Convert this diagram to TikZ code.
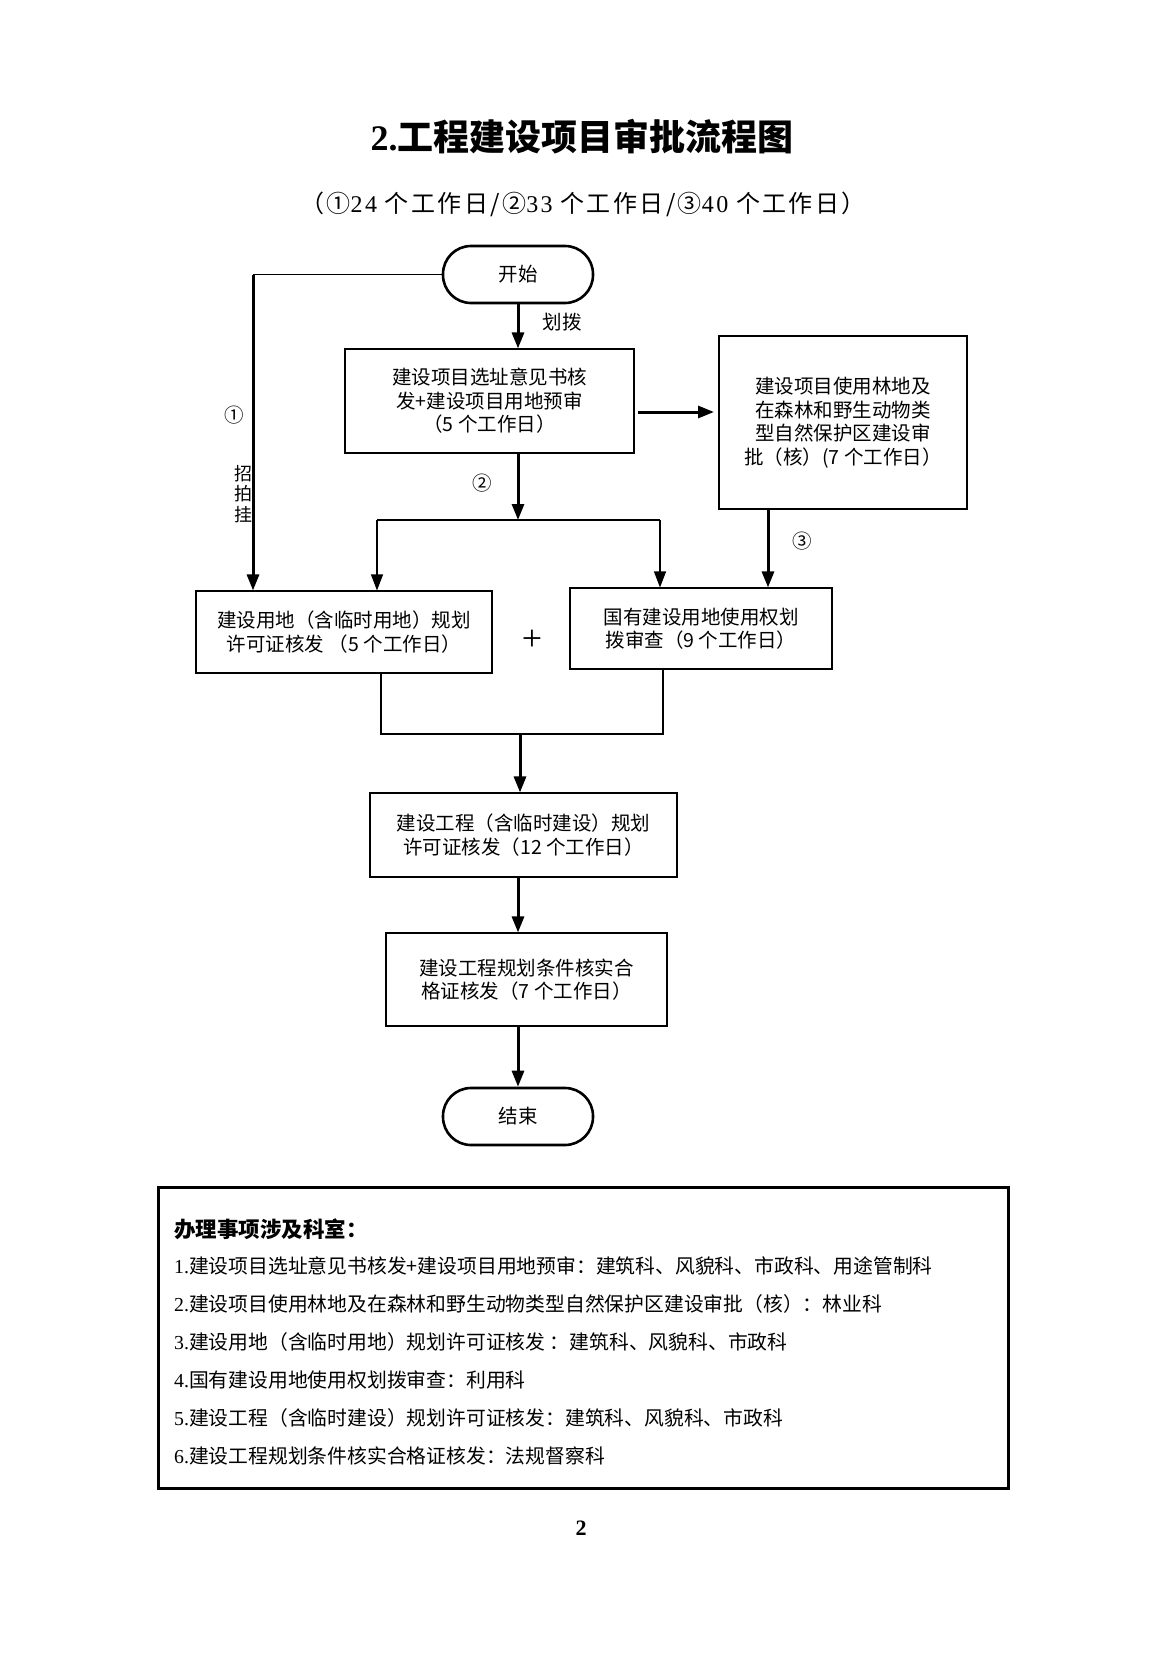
\documentclass[tikz,border=0pt]{standalone}
\usepackage{fontspec}
\setmainfont{Noto Sans CJK SC}
\newfontfamily\tnr{Liberation Serif}
\usetikzlibrary{arrows.meta}
\begin{document}
\begin{tikzpicture}[x=1pt,y=-1pt,
  box/.style={draw,line width=1.1pt,align=center,inner sep=0pt,
    font=\fontsize{19.5}{23.5}\selectfont},
  term/.style={draw,line width=2.6pt,rounded corners=28pt,inner sep=0pt,
    minimum width=150pt,minimum height=57pt,font=\fontsize{19.5}{23.5}\selectfont},
  flow/.style={line width=3pt,-{Triangle[length=16pt,width=12pt]}},
  thinflow/.style={line width=1.1pt,-{Triangle[length=16pt,width=12pt]}},
  link/.style={line width=1.1pt},
  lbl/.style={inner sep=0pt,font=\fontsize{19.5}{23.5}\selectfont},
  legend/.style={anchor=west,inner sep=0pt,font=\fontsize{19.8}{23.5}\selectfont}]
\useasboundingbox[fill=white] (0,0) rectangle (1166,1654);

% titles
\node[inner sep=0pt,font=\fontsize{36}{40}\selectfont\bfseries] (title) at (582,137)
  {{\tnr 2.}工程建设项目审批流程图};
\node[inner sep=0pt,font=\fontsize{24}{28}\selectfont\addfontfeatures{LetterSpace=10}] (subtitle) at (583,204)
  {（①{\tnr\addfontfeatures{LetterSpace=10}24} 个工作日/②{\tnr\addfontfeatures{LetterSpace=10}33} 个工作日/③{\tnr\addfontfeatures{LetterSpace=10}40} 个工作日）};

% main nodes
\node[term] (start) at (518,274.5) {开始};
\node[box,minimum width=289pt,minimum height=104pt] (b1) at (489.5,401)
  {建设项目选址意见书核\\发+建设项目用地预审\\（5 个工作日）};
\node[box,minimum width=248pt,minimum height=173pt] (b2) at (843,422.5)
  {建设项目使用林地及\\在森林和野生动物类\\型自然保护区建设审\\批（核）(7 个工作日）};
\node[box,minimum width=296pt,minimum height=82pt] (b3) at (344,632)
  {建设用地（含临时用地）规划\\许可证核发 （5 个工作日）};
\node[box,minimum width=262pt,minimum height=81pt] (b4) at (701,628.5)
  {国有建设用地使用权划\\拨审查（9 个工作日）};
\node[box,minimum width=307pt,minimum height=84pt] (b5) at (523.5,835)
  {建设工程（含临时建设）规划\\许可证核发（12 个工作日）};
\node[box,minimum width=281pt,minimum height=93pt] (b6) at (526.5,979.5)
  {建设工程规划条件核实合\\格证核发（7 个工作日）};
\node[term] (end) at (518,1116.5) {结束};

% labels
\node[lbl] (huabo) at (562,322) {划拨};
\node[lbl] (n1) at (234,415) {①};
\node[lbl,align=center,font=\fontsize{18}{20.5}\selectfont] (zpg) at (243,494) {招\\拍\\挂};
\node[lbl] (n2) at (482,483) {②};
\node[lbl] (n3) at (802,541) {③};
\node[inner sep=0pt,font=\tnr\fontsize{36}{36}\selectfont] (plus) at (532,640) {+};

% helper coordinates
\coordinate (axis) at (518,0);
\coordinate (lturn) at (253,274.5);
\coordinate (split) at (518,520);
\coordinate (splitL) at (377,520);
\coordinate (splitR) at (660,520);
\coordinate (mergeL) at (381,734);
\coordinate (mergeR) at (663,734);
\coordinate (merge) at (520,734);
\coordinate (b1out) at (638,412);
\coordinate (b2in) at (714,412);
\coordinate (b2down) at (768,0);

% connectors
\draw[link] (start.west) -- (lturn);
\draw[flow] (lturn) -- (lturn |- b3.north);
\draw[flow] (start.south) -- (start.south |- b1.north);
\draw[flow] (b1out) -- (b2in);
\draw[flow] (axis |- b1.south) -- (split);
\draw[link] (splitL) -- (splitR);
\draw[thinflow] (splitL) -- (splitL |- b3.north);
\draw[thinflow] (splitR) -- (splitR |- b4.north);
\draw[flow] (b2down |- b2.south) -- (b2down |- b4.north);
\draw[link] (mergeL |- b3.south) -- (mergeL) -- (mergeR) -- (mergeR |- b4.south);
\draw[flow] (merge) -- (merge |- b5.north);
\draw[flow] (axis |- b5.south) -- (axis |- b6.north);
\draw[flow] (axis |- b6.south) -- (axis |- end.north);

% legend
\node[draw,line width=3pt,minimum width=850pt,minimum height=301pt,inner sep=0pt] (legendbox) at (583,1337.5) {};
\node[legend,font=\fontsize{21.5}{24}\selectfont\bfseries] (lh) at (174,1229) {办理事项涉及科室：};
\node[legend] (l1) at (174,1266) {{\tnr 1.}建设项目选址意见书核发+建设项目用地预审：建筑科、风貌科、市政科、用途管制科};
\node[legend] (l2) at (174,1304) {{\tnr 2.}建设项目使用林地及在森林和野生动物类型自然保护区建设审批（核）：林业科};
\node[legend] (l3) at (174,1342) {{\tnr 3.}建设用地（含临时用地）规划许可证核发 ：建筑科、风貌科、市政科};
\node[legend] (l4) at (174,1380) {{\tnr 4.}国有建设用地使用权划拨审查：利用科};
\node[legend] (l5) at (174,1418) {{\tnr 5.}建设工程（含临时建设）规划许可证核发：建筑科、风貌科、市政科};
\node[legend] (l6) at (174,1456) {{\tnr 6.}建设工程规划条件核实合格证核发：法规督察科};

\node[inner sep=0pt,font=\tnr\bfseries\fontsize{22}{24}\selectfont] (page) at (581,1528) {2};
\end{tikzpicture}
\end{document}
